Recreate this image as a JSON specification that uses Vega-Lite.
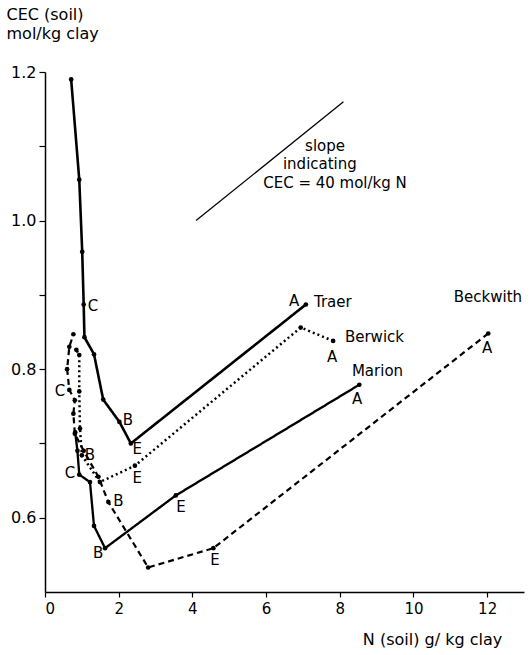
{
  "$schema": "https://vega.github.io/schema/vega-lite/v6.json",
  "width": 479,
  "height": 520,
  "autosize": "none",
  "padding": {"left": 45, "top": 72, "right": 6, "bottom": 63},
  "background": "white",
  "config": {
    "view": {"stroke": null},
    "font": "DejaVu Sans",
    "axis": {"grid": false, "domainColor": "black", "tickColor": "black", "labelColor": "black", "titleColor": "black", "domainWidth": 1.5, "tickWidth": 1.2, "labelFont": "DejaVu Sans", "titleFont": "DejaVu Sans", "labelFontSize": 15, "titleFontSize": 15, "titleFontWeight": "normal"}
  },
  "datasets": {
    "pts": [
      {"site": "Traer", "seq": 1, "n": 7.08, "cec": 0.887},
      {"site": "Traer", "seq": 2, "n": 2.33, "cec": 0.700},
      {"site": "Traer", "seq": 3, "n": 2.02, "cec": 0.729},
      {"site": "Traer", "seq": 4, "n": 1.58, "cec": 0.759},
      {"site": "Traer", "seq": 5, "n": 1.33, "cec": 0.820},
      {"site": "Traer", "seq": 6, "n": 1.07, "cec": 0.843},
      {"site": "Traer", "seq": 7, "n": 1.05, "cec": 0.887},
      {"site": "Traer", "seq": 8, "n": 1.01, "cec": 0.958},
      {"site": "Traer", "seq": 9, "n": 0.93, "cec": 1.055},
      {"site": "Traer", "seq": 10, "n": 0.71, "cec": 1.19},
      {"site": "Berwick", "seq": 1, "n": 7.82, "cec": 0.838},
      {"site": "Berwick", "seq": 2, "n": 6.94, "cec": 0.856},
      {"site": "Berwick", "seq": 3, "n": 2.44, "cec": 0.670},
      {"site": "Berwick", "seq": 4, "n": 1.49, "cec": 0.648},
      {"site": "Berwick", "seq": 5, "n": 1.0, "cec": 0.684},
      {"site": "Berwick", "seq": 6, "n": 0.95, "cec": 0.720},
      {"site": "Berwick", "seq": 7, "n": 0.93, "cec": 0.770},
      {"site": "Berwick", "seq": 8, "n": 0.93, "cec": 0.819},
      {"site": "Berwick", "seq": 9, "n": 0.85, "cec": 0.826},
      {"site": "Marion", "seq": 1, "n": 8.53, "cec": 0.779},
      {"site": "Marion", "seq": 2, "n": 3.55, "cec": 0.630},
      {"site": "Marion", "seq": 3, "n": 1.63, "cec": 0.559},
      {"site": "Marion", "seq": 4, "n": 1.33, "cec": 0.589},
      {"site": "Marion", "seq": 5, "n": 1.22, "cec": 0.648},
      {"site": "Marion", "seq": 6, "n": 0.93, "cec": 0.658},
      {"site": "Marion", "seq": 7, "n": 0.88, "cec": 0.690},
      {"site": "Marion", "seq": 8, "n": 0.82, "cec": 0.715},
      {"site": "Beckwith", "seq": 1, "n": 12.03, "cec": 0.848},
      {"site": "Beckwith", "seq": 2, "n": 4.57, "cec": 0.559},
      {"site": "Beckwith", "seq": 3, "n": 2.80, "cec": 0.533},
      {"site": "Beckwith", "seq": 4, "n": 1.72, "cec": 0.621},
      {"site": "Beckwith", "seq": 5, "n": 1.45, "cec": 0.655},
      {"site": "Beckwith", "seq": 6, "n": 1.05, "cec": 0.690},
      {"site": "Beckwith", "seq": 7, "n": 0.81, "cec": 0.713},
      {"site": "Beckwith", "seq": 8, "n": 0.77, "cec": 0.740},
      {"site": "Beckwith", "seq": 9, "n": 0.81, "cec": 0.758},
      {"site": "Beckwith", "seq": 10, "n": 0.66, "cec": 0.772},
      {"site": "Beckwith", "seq": 11, "n": 0.60, "cec": 0.800},
      {"site": "Beckwith", "seq": 12, "n": 0.66, "cec": 0.830},
      {"site": "Beckwith", "seq": 13, "n": 0.77, "cec": 0.847}
    ],
    "letters": [
      {"t": "A", "n": 6.76, "cec": 0.892},
      {"t": "C", "n": 1.30, "cec": 0.885},
      {"t": "B", "n": 2.25, "cec": 0.732},
      {"t": "E", "n": 2.50, "cec": 0.692},
      {"t": "A", "n": 7.79, "cec": 0.817},
      {"t": "E", "n": 2.50, "cec": 0.653},
      {"t": "B", "n": 1.22, "cec": 0.684},
      {"t": "C", "n": 0.41, "cec": 0.770},
      {"t": "A", "n": 8.47, "cec": 0.760},
      {"t": "E", "n": 3.69, "cec": 0.614},
      {"t": "B", "n": 1.44, "cec": 0.552},
      {"t": "C", "n": 0.68, "cec": 0.660},
      {"t": "A", "n": 12.0, "cec": 0.829},
      {"t": "E", "n": 4.61, "cec": 0.543},
      {"t": "B", "n": 1.99, "cec": 0.623},
      {"t": "Beckwith", "n": 12.02, "cec": 0.897},
      {"t": "slope", "n": 7.60, "cec": 1.100},
      {"t": "indicating", "n": 7.46, "cec": 1.076},
      {"t": "CEC = 40 mol/kg N", "n": 7.87, "cec": 1.050}
    ],
    "names": [
      {"t": "Traer", "n": 7.30, "cec": 0.891},
      {"t": "Berwick", "n": 8.14, "cec": 0.843},
      {"t": "Marion", "n": 8.33, "cec": 0.798}
    ],
    "slope": [
      {"n": 4.1, "cec": 1.0},
      {"n": 8.1, "cec": 1.16}
    ]
  },
  "layer": [
    {
      "data": {"name": "slope"},
      "mark": {"type": "line", "color": "black", "strokeWidth": 1.3},
      "encoding": {
        "x": {"field": "n", "type": "quantitative", "scale": {"domain": [0, 13], "nice": false, "zero": false},
          "axis": {"values": [0, 2, 4, 6, 8, 10, 12], "tickSize": 5, "labelPadding": 4, "title": "N (soil)  g/ kg  clay", "titleX": 387, "titleY": 52, "titleAlign": "center", "titleBaseline": "alphabetic", "titleFontSize": 16}},
        "y": {"field": "cec", "type": "quantitative", "scale": {"domain": [0.5, 1.2], "nice": false, "zero": false},
          "axis": {"values": [0.6, 0.7, 0.8, 0.9, 1.0, 1.1, 1.2], "labelExpr": "(round(datum.value*10) % 2 == 0) ? format(datum.value, '.1f') : ''", "tickSize": 6, "labelPadding": 3, "labelFontSize": 16, "title": ["CEC (soil)", "mol/kg  clay"], "titleFontSize": 16, "titleAngle": 0, "titleX": -39, "titleY": -66, "titleAlign": "left", "titleBaseline": "top", "titleLineHeight": 19}}
      }
    },
    {
      "data": {"name": "pts"},
      "mark": {"type": "line", "color": "black"},
      "encoding": {
        "x": {"field": "n", "type": "quantitative"},
        "y": {"field": "cec", "type": "quantitative"},
        "detail": {"field": "site"},
        "order": {"field": "seq", "type": "quantitative"},
        "strokeDash": {"field": "site", "type": "nominal", "scale": {"domain": ["Traer", "Berwick", "Marion", "Beckwith"], "range": [[1, 0], [2, 3], [1, 0], [6, 4]]}, "legend": null},
        "strokeWidth": {"field": "site", "type": "nominal", "scale": {"domain": ["Traer", "Berwick", "Marion", "Beckwith"], "range": [2.6, 2.2, 1.5, 1.3]}, "legend": null}
      }
    },
    {
      "data": {"name": "pts"},
      "mark": {"type": "circle", "color": "black", "opacity": 1, "size": 22},
      "encoding": {
        "x": {"field": "n", "type": "quantitative"},
        "y": {"field": "cec", "type": "quantitative"}
      }
    },
    {
      "data": {"name": "letters"},
      "mark": {"type": "text", "color": "black", "fontSize": 15, "baseline": "middle", "align": "center", "font": "DejaVu Sans"},
      "encoding": {
        "x": {"field": "n", "type": "quantitative"},
        "y": {"field": "cec", "type": "quantitative"},
        "text": {"field": "t"}
      }
    },
    {
      "data": {"name": "names"},
      "mark": {"type": "text", "color": "black", "fontSize": 15, "baseline": "middle", "align": "left", "font": "DejaVu Sans"},
      "encoding": {
        "x": {"field": "n", "type": "quantitative"},
        "y": {"field": "cec", "type": "quantitative"},
        "text": {"field": "t"}
      }
    }
  ]
}
